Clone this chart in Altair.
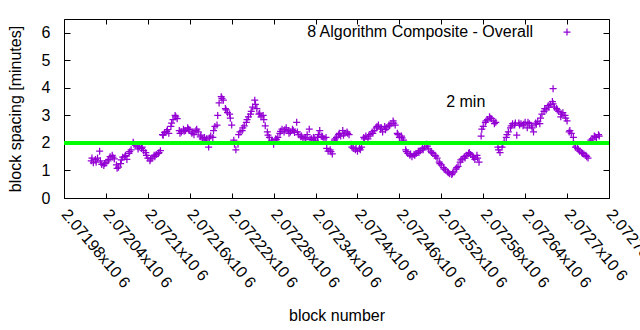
import altair as alt
import pandas as pd

# ---- axis ticks / labels ----
x_ticks = [2071980, 2072040, 2072100, 2072160, 2072220, 2072280, 2072340,
           2072400, 2072460, 2072520, 2072580, 2072640, 2072700, 2072760]
x_tick_labels = ["2.07198x10 6", "2.07204x10 6", "2.0721x10 6", "2.07216x10 6",
                 "2.07222x10 6", "2.07228x10 6", "2.07234x10 6", "2.0724x10 6",
                 "2.07246x10 6", "2.07252x10 6", "2.07258x10 6", "2.07264x10 6",
                 "2.0727x10 6", "2.07276x10 6"]
y_ticks = [0, 1, 2, 3, 4, 5, 6]

# ---- series: block spacing (minutes), every 3rd block from first_block ----
first_block = 2072019
block_step = 3
spacing = [
    1.35, 1.28, 1.40, 1.45, 1.70, 1.22, 1.18, 1.28, 1.35, 1.50,
    1.55, 1.42, 1.20, 1.12, 1.25, 1.48, 1.50, 1.40, 1.62, 1.75,
    2.02, 1.92, 1.88, 1.85, 1.80, 1.72, 1.65, 1.45, 1.35, 1.45,
    1.55, 1.58, 1.62, 1.72, 2.30, 2.38, 2.42, 2.35, 2.60, 2.85,
    3.00, 2.88, 2.45, 2.40, 2.50, 2.45, 2.55, 2.48, 2.35, 2.30,
    2.45, 2.40, 2.22, 2.15, 2.20, 2.15, 1.85, 2.25, 2.20, 2.60,
    2.65, 3.45, 3.68, 3.55, 3.25, 3.10, 3.05, 2.65, 2.10, 1.75,
    1.95, 2.40, 2.45, 2.62, 2.75, 2.95, 3.05, 3.30, 3.55, 3.25,
    3.05, 2.95, 3.00, 2.62, 2.40, 2.20, 2.10, 1.95, 2.15, 2.20,
    2.35, 2.50, 2.40, 2.55, 2.45, 2.40, 2.50, 2.38, 2.75, 2.30,
    2.22, 2.18, 2.15, 2.30, 2.50, 2.15, 2.20, 2.10, 2.20, 2.45,
    2.25, 2.15, 2.20, 1.70, 1.75, 1.60, 2.10, 2.20, 2.30, 2.25,
    2.45, 2.35, 2.40, 2.30, 1.95, 1.80, 1.75, 1.70, 1.80, 1.85,
    2.20, 2.25, 2.15, 2.30, 2.40, 2.45, 2.55, 2.65, 2.50, 2.40,
    2.60, 2.55, 2.65, 2.70, 2.80, 2.65, 2.35, 2.20, 2.25, 2.10,
    1.75, 1.62, 1.55, 1.50, 1.58, 1.62, 1.70, 1.72, 1.80, 1.85,
    1.95, 1.78, 1.70, 1.62, 1.55, 1.45, 1.30, 1.20, 1.10, 1.02,
    0.95, 0.88, 0.85, 0.95, 1.05, 1.15, 1.30, 1.42, 1.50, 1.55,
    1.62, 1.58, 1.52, 1.40, 1.55, 1.30, 2.25, 2.60, 2.75, 2.85,
    2.95, 2.88, 2.80, 2.75, 1.85, 1.65, 1.85, 2.05, 2.20, 2.40,
    2.55, 2.70, 2.65, 2.28, 2.72, 2.70, 2.62, 2.75, 2.55, 2.70,
    2.62, 2.40, 2.72, 2.78, 2.70, 3.05, 3.15, 3.20, 3.35, 3.40,
    3.50, 3.30, 3.25, 3.15, 2.95, 3.10, 3.00, 2.80, 2.40, 2.35,
    2.20, 1.85, 1.80, 1.70, 1.65, 1.60, 1.55, 1.45, 2.05, 2.15,
    2.25, 2.20, 2.30,
]
# second pass: every 6th block starting at first_block + 1
first_block_b = 2072020
block_step_b = 6
spacing_b = [
    1.45, 1.30, 1.35, 1.25, 1.40, 1.48, 1.08, 1.38, 1.55, 1.68,
    1.95, 1.78, 1.85, 1.55, 1.42, 1.50, 1.65, 2.28, 2.48, 2.72,
    2.95, 2.35, 2.42, 2.50, 2.40, 2.50, 2.28, 2.10, 2.18, 2.45,
    3.00, 3.62, 3.20, 2.90, 1.95, 2.30, 2.55, 2.85, 3.15, 3.40,
    3.08, 2.85, 2.28, 2.05, 2.12, 2.42, 2.48, 2.35, 2.45, 2.40,
    2.25, 2.20, 2.12, 2.18, 2.30, 2.22, 1.80, 1.68, 2.15, 2.35,
    2.28, 2.35, 1.85, 1.80, 1.75, 2.15, 2.25, 2.35, 2.60, 2.55,
    2.48, 2.62, 2.72, 2.30, 2.18, 1.68, 1.60, 1.55, 1.65, 1.75,
    1.88, 1.65, 1.52, 1.25, 1.05, 0.92, 0.90, 1.10, 1.38, 1.45,
    1.65, 1.48, 1.45, 2.50, 2.80, 2.90, 2.70, 1.75, 1.95, 2.30,
    2.62, 2.72, 2.65, 2.68, 2.75, 2.55, 2.68, 2.90, 3.25, 3.30,
    3.42, 3.20, 3.05, 2.90, 2.45, 1.95, 1.75, 1.62, 1.50, 2.10,
    2.22, 2.25,
]
outlier_blocks = [2072680]
outlier_values = [3.97]

target_value = 2
note_text = "2 min"
note_block = 2072527
note_value = 3.5
legend_label = "8 Algorithm Composite - Overall"

blocks = [first_block + block_step * i for i in range(len(spacing))]
blocks_b = [first_block_b + block_step_b * i for i in range(len(spacing_b))]
df = pd.DataFrame({"block": blocks + blocks_b + outlier_blocks,
                   "spacing": spacing + spacing_b + outlier_values})

PURPLE = "#9400D3"
PLUS = "M-1,0L1,0M0,-1L0,1"
FONT = "Liberation Sans"

x_scale = alt.Scale(domain=[x_ticks[0], x_ticks[-1]], nice=False, zero=False)
y_scale = alt.Scale(domain=[0, 6.5], nice=False, zero=False)

label_expr = "{}[indexof({}, datum.value)]".format(
    "[" + ",".join("'" + s + "'" for s in x_tick_labels) + "]",
    "[" + ",".join(str(v) for v in x_ticks) + "]",
)

x_axis_main = alt.Axis(
    orient="bottom", values=x_ticks, labelExpr=label_expr, labelAngle=50,
    labelAlign="left", labelBaseline="middle", labelPadding=13,
    labelOverlap=False, labelFlush=False, labelBound=False,
    tickSize=5, offset=-5, domain=False, grid=False,
    title="block number", titlePadding=17,
)
y_axis_main = alt.Axis(
    orient="left", values=y_ticks, tickSize=6, offset=-6, labelPadding=14,
    domain=False, grid=False, title="block spacing [minutes]", titlePadding=18,
)
x_axis_top = alt.Axis(orient="top", values=x_ticks, labels=False, tickSize=5,
                      offset=-5, domain=False, grid=False, title=None)
y_axis_right = alt.Axis(orient="right", values=y_ticks, labels=False, tickSize=6,
                        offset=-6, domain=False, grid=False, title=None)

mirror = alt.Chart(df).mark_point(opacity=0).encode(
    x=alt.X("block:Q", scale=x_scale, axis=x_axis_top),
    y=alt.Y("spacing:Q", scale=y_scale, axis=y_axis_right),
)

points = alt.Chart(df).mark_point(
    shape=PLUS, size=49, filled=False, strokeWidth=1.25, color=PURPLE, opacity=1
).encode(
    x=alt.X("block:Q", scale=x_scale, axis=x_axis_main),
    y=alt.Y("spacing:Q", scale=y_scale, axis=y_axis_main),
)

rule = alt.Chart(pd.DataFrame({"v": [target_value]})).mark_rule(
    color="#00FF00", strokeWidth=4
).encode(y=alt.Y("v:Q", scale=y_scale, axis=None))

note = alt.Chart(pd.DataFrame({"b": [note_block], "v": [note_value], "t": [note_text]})).mark_text(
    align="left", baseline="middle", font=FONT, fontSize=16, color="black"
).encode(
    x=alt.X("b:Q", scale=x_scale, axis=None),
    y=alt.Y("v:Q", scale=y_scale, axis=None),
    text="t:N",
)

legend_df = pd.DataFrame({"t": [legend_label]})
legend_text = alt.Chart(legend_df).mark_text(
    align="right", baseline="middle", font=FONT, fontSize=16, color="black"
).encode(x=alt.value(469), y=alt.value(13), text="t:N")
legend_mark = alt.Chart(legend_df).mark_point(
    shape=PLUS, size=49, filled=False, strokeWidth=1.25, color=PURPLE, opacity=1
).encode(x=alt.value(503), y=alt.value(13))

chart = alt.layer(mirror, points, rule, note, legend_text, legend_mark).resolve_axis(
    x="independent", y="independent"
).properties(
    width=545, height=179,
    autosize=alt.AutoSizeParams(type="none"),
    padding={"left": 64, "top": 19, "right": 31, "bottom": 132},
    background="white",
).configure_view(
    stroke="black", strokeWidth=1
).configure_axis(
    labelFont=FONT, labelFontSize=16, labelColor="black",
    titleFont=FONT, titleFontSize=16, titleFontWeight="normal", titleColor="black",
    tickColor="black", tickWidth=1,
)

chart.save("out.html", embed_options={"renderer": "svg", "actions": False})
